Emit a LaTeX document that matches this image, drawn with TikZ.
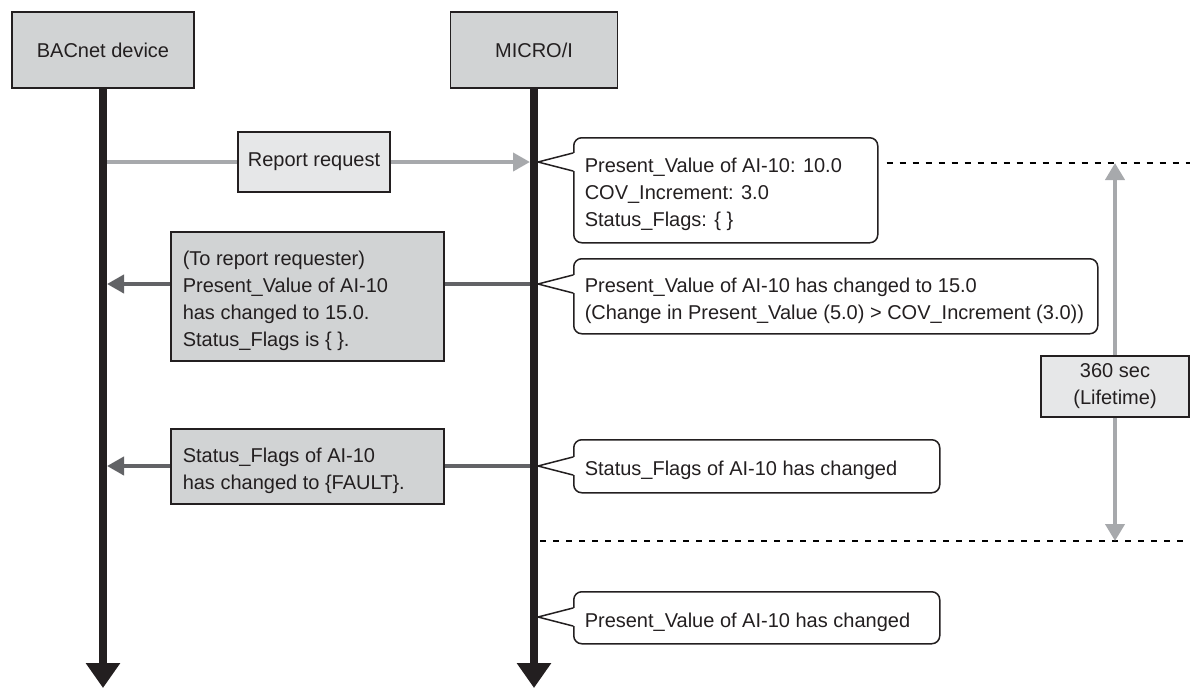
\documentclass[tikz,border=0pt]{standalone}
\usepackage{fontspec}
\setmainfont{Liberation Sans}
\usetikzlibrary{arrows.meta,positioning,calc,backgrounds}

\definecolor{ink}{HTML}{231F20}
\definecolor{partyfill}{HTML}{D1D3D4}
\definecolor{notefill}{HTML}{E6E7E8}
\definecolor{reqline}{HTML}{A7A9AC}
\definecolor{replyline}{HTML}{626366}

% left aligned lines inside a box of given width
\newcommand{\msgtext}[2]{\makebox[#1][l]{\begin{tabular}[t]{@{}l@{}}#2\end{tabular}}}
% pointer of a note, from node #1 to coordinate #2
\newcommand{\calltail}[2]{%
  \fill[white] ($(#1.west |- #2)+(2,-9)$) -- (#2) -- ($(#1.west |- #2)+(2,9)$) -- cycle;
  \draw[tailline] ($(#1.west |- #2)+(0,-9)$) -- (#2) -- ($(#1.west |- #2)+(0,9)$);}

\tikzset{
  every node/.style={font=\fontsize{20}{27}\selectfont, text=ink},
  party/.style={draw=ink, line width=1.5pt, fill=partyfill, minimum height=76pt},
  lifeline/.style={draw=ink, line width=8pt, -{Triangle[width=33pt,length=25pt]}},
  notebox/.style={draw=ink, line width=1.5pt, fill=notefill, inner xsep=4pt},
  replybox/.style={draw=ink, line width=1.5pt, fill=partyfill, anchor=north west,
    inner xsep=12pt, text height=27pt},
  callout/.style={draw=ink, line width=1.5pt, fill=white, rounded corners=8pt,
    anchor=north west, inner xsep=11pt, text height=27pt},
  request/.style={draw=reqline, line width=4pt, -{Triangle[width=18pt,length=17pt]}},
  reply/.style={draw=replyline, line width=4pt, -{Triangle[width=18pt,length=17pt]}},
  lifespan/.style={draw=reqline, line width=4pt,
    {Triangle[width=19pt,length=17pt]}-{Triangle[width=19pt,length=17pt]}},
  limit/.style={draw=black, line width=1.2pt, dash pattern=on 6pt off 7pt},
  tailline/.style={draw=ink, line width=1.5pt, line join=miter}
}

\begin{document}
\begin{tikzpicture}[x=1pt,y=-1pt]
  \useasboundingbox (0,0) rectangle (1190,688);

  % devices and lifelines
  \node[party, minimum width=182pt] (dev) at (103,50) {BACnet device};
  \node[party, minimum width=167pt] (micro) at (534,50) {MICRO/I};
  \coordinate (devend) at (103,688);
  \coordinate (microend) at (534,688);
  \draw[lifeline] (dev.south) -- (devend);
  \draw[lifeline] (micro.south) -- (microend);

  % messages
  \node[notebox, minimum width=152pt, minimum height=60pt] (rq) at (314,162) {Report request};
  \node[replybox, minimum height=129pt] (r1) at (170,231)
    {\msgtext{249pt}{(To report requester)\\Present\_Value of AI-10\\has changed to 15.0.\\Status\_Flags is \{ \}.}};
  \node[replybox, minimum height=75pt] (r2) at (170,428)
    {\msgtext{249pt}{Status\_Flags of AI-10\\has changed to \{FAULT\}.}};

  % notes on the MICRO/I side
  \node[callout, minimum height=105pt] (c1) at (573,137)
    {\msgtext{282pt}{Present\_Value of AI-10: 10.0\\COV\_Increment: 3.0\\Status\_Flags: \{ \}}};
  \node[callout, minimum height=75pt] (c2) at (573,258)
    {\msgtext{502pt}{Present\_Value of AI-10 has changed to 15.0\\(Change in Present\_Value (5.0) > COV\_Increment (3.0))}};
  \node[callout, minimum height=53pt] (c3) at (573,439)
    {\msgtext{344pt}{Status\_Flags of AI-10 has changed}};
  \node[callout, minimum height=52pt] (c4) at (573,591)
    {\msgtext{344pt}{Present\_Value of AI-10 has changed}};

  \coordinate (t1) at ($(micro.south |- rq)+(4,0)$);
  \coordinate (t2) at (538,284);
  \coordinate (t3) at (538,466);
  \coordinate (t4) at (538,617);
  \calltail{c1}{t1}
  \calltail{c2}{t2}
  \calltail{c3}{t3}
  \calltail{c4}{t4}

  % lifetime
  \node[notebox, minimum width=148pt, minimum height=61pt, align=center] (lt) at (1115,386.5)
    {360 sec\\(Lifetime)};
  \coordinate (lim1) at (1190,163);
  \coordinate (lim2) at (1190,541);

  \begin{scope}[on background layer]
    \draw[request] (dev.south |- rq) -- ($(micro.south |- rq)+(-4,0)$);
    \draw[reply] (micro.south |- t2) -- ($(dev.south |- t2)+(4,0)$);
    \draw[reply] (micro.south |- t3) -- ($(dev.south |- t3)+(4,0)$);
    \draw[limit] ($(c1.east |- lim1)+(8,0)$) -- (lim1);
    \draw[limit] ($(micro.south |- lim2)+(6,0)$) -- (lim2);
    \draw[lifespan] (lt |- lim1) -- (lt |- lim2);
  \end{scope}
\end{tikzpicture}
\end{document}
